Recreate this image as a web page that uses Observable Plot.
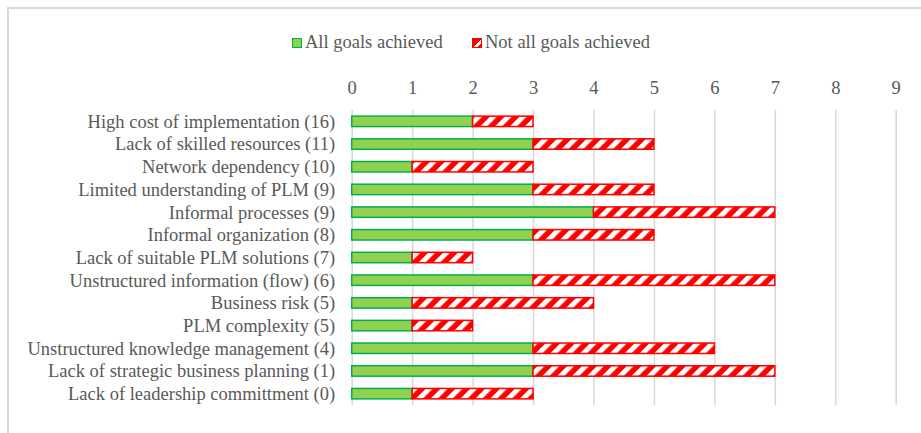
<!DOCTYPE html>
<html><head><meta charset="utf-8">
<script src="https://cdn.jsdelivr.net/npm/d3@7"></script>
<script src="https://cdn.jsdelivr.net/npm/@observablehq/plot@0.6"></script>
<style>
body{margin:0;background:#fff;}
#frame{position:absolute;left:7px;top:7px;width:940px;height:450px;border:2px solid #d9d9d9;box-sizing:border-box;}
#wrap{position:absolute;left:0;top:0;width:921px;height:433px;font-family:"Liberation Serif",serif;color:#595959;}
#legend{height:72px;position:relative;font-size:18.5px;}
.item{position:absolute;top:32px;height:20px;line-height:20px;white-space:nowrap;}
.sw{display:inline-block;width:8px;height:8px;vertical-align:middle;margin-right:3px;position:relative;top:-1px;}
#chart svg{display:block;}
</style></head>
<body>
<div id="frame"></div>
<div id="wrap">
  <div id="legend"></div>
  <div id="chart"></div>
</div>
<script>
const categories = [
  "High cost of implementation (16)",
  "Lack of skilled resources (11)",
  "Network dependency (10)",
  "Limited understanding of PLM (9)",
  "Informal processes (9)",
  "Informal organization (8)",
  "Lack of suitable PLM solutions (7)",
  "Unstructured information (flow) (6)",
  "Business risk (5)",
  "PLM complexity (5)",
  "Unstructured knowledge management (4)",
  "Lack of strategic business planning (1)",
  "Lack of leadership committment (0)"
];
const allGoals    = [2, 3, 1, 3, 4, 3, 1, 3, 1, 1, 3, 3, 1];
const notAllGoals = [1, 2, 2, 2, 3, 2, 1, 4, 3, 1, 3, 4, 2];
const seriesNames = ["All goals achieved", "Not all goals achieved"];
const xTicks = [0, 1, 2, 3, 4, 5, 6, 7, 8, 9];

const rows = categories.map((c, i) => ({cat: c, a: allGoals[i], b: notAllGoals[i]}));

// legend
const legend = document.getElementById("legend");
legend.innerHTML = `
  <div class="item" style="left:292px"><span class="sw" style="background:#92D050;border:1.5px solid #00B050"></span>${seriesNames[0]}</div>
  <div class="item" style="left:472px"><span class="sw" style="background:#FF0000;border:1.5px solid #FF0000;background-image:linear-gradient(135deg,#FF0000 55%,#fff 55%,#fff 80%,#FF0000 80%)"></span>${seriesNames[1]}</div>`;

const chart = Plot.plot({
  width: 921,
  height: 361,
  marginLeft: 351.7,
  marginRight: 25.3,
  marginTop: 38,
  marginBottom: 28,
  style: {fontFamily: "'Liberation Serif', serif", fontSize: "18.5px", color: "#595959", background: "transparent", overflow: "visible"},
  x: {domain: [0, 9], ticks: xTicks},
  y: {domain: categories, paddingInner: 0.54, paddingOuter: 0.27, round: false},
  marks: [
    Plot.gridX(xTicks, {stroke: "#d9d9d9", strokeOpacity: 1, strokeWidth: 1.5}),
    Plot.barX(rows, {y: "cat", x1: 0, x2: "a", fill: "#92D050", stroke: "#00B050", strokeWidth: 1.5}),
    Plot.barX(rows, {y: "cat", x1: "a", x2: d => d.a + d.b, fill: "url(#stripes)", stroke: "#FF0000", strokeWidth: 1.5}),
    Plot.axisX(xTicks, {anchor: "top", tickSize: 0, tickPadding: 17, label: null, fill: "#595959"}),
    Plot.axisY({tickSize: 0, tickPadding: 17, label: null, fill: "#595959"})
  ]
});

const ns = "http://www.w3.org/2000/svg";
const defs = document.createElementNS(ns, "defs");
defs.innerHTML = `<pattern id="stripes" patternUnits="userSpaceOnUse" width="10.5" height="10.5" patternTransform="rotate(45)">
  <rect width="10.5" height="10.5" fill="#FF0000"/>
  <rect x="0" width="5" height="10.5" fill="#ffffff"/>
</pattern>`;
chart.insertBefore(defs, chart.firstChild);
document.getElementById("chart").appendChild(chart);
</script>
</body></html>
